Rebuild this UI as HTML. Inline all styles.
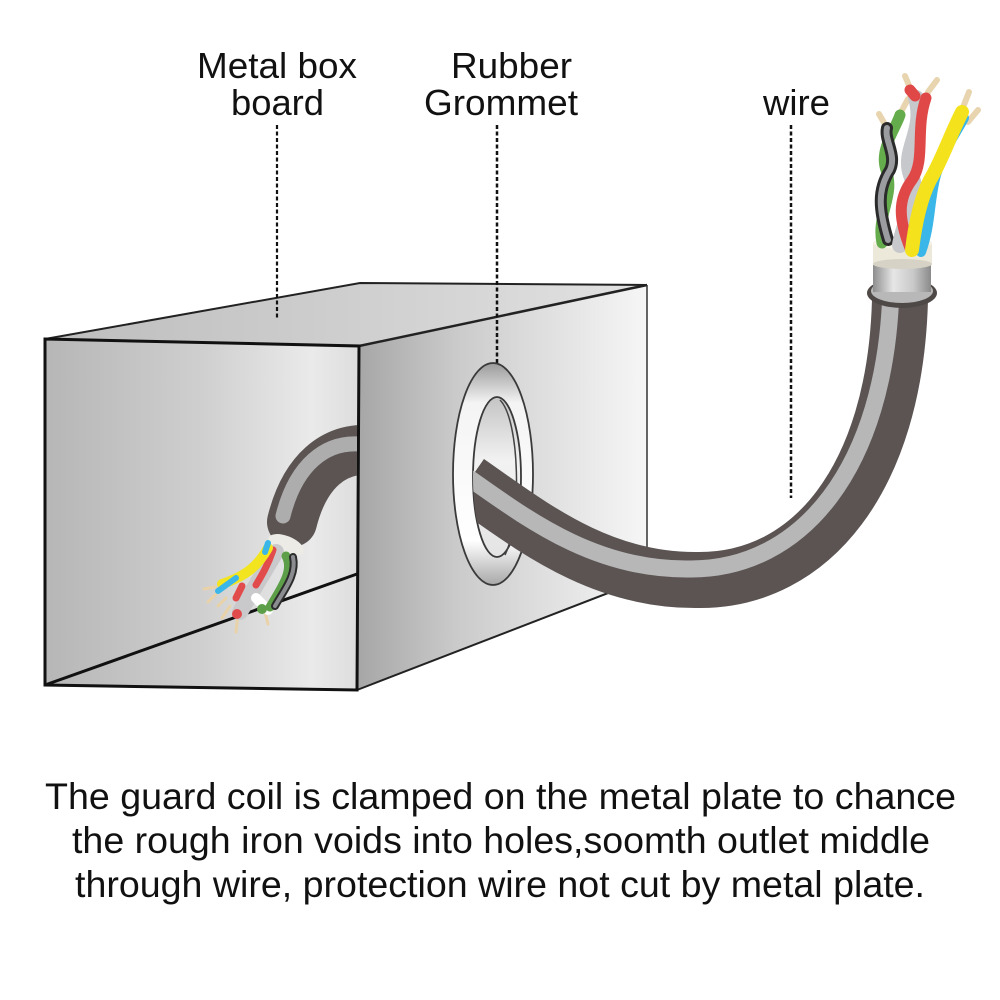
<!DOCTYPE html>
<html>
<head>
<meta charset="utf-8">
<style>
html,body{margin:0;padding:0;background:#fff;}
svg{display:block;}
text{font-family:"Liberation Sans",Arial,sans-serif;fill:#111;}
</style>
</head>
<body>
<svg width="1000" height="1000" viewBox="0 0 1000 1000" xmlns="http://www.w3.org/2000/svg">
<defs>
  <linearGradient id="gFront" x1="0" y1="0" x2="1" y2="0">
    <stop offset="0" stop-color="#b6b6b6"/>
    <stop offset="0.5" stop-color="#cfcfcf"/>
    <stop offset="0.85" stop-color="#eaeaea"/>
    <stop offset="1" stop-color="#dddddd"/>
  </linearGradient>
  <linearGradient id="gTop" x1="0" y1="0" x2="1" y2="0">
    <stop offset="0" stop-color="#bdbdbd"/>
    <stop offset="0.6" stop-color="#d2d2d2"/>
    <stop offset="1" stop-color="#e2e2e2"/>
  </linearGradient>
  <linearGradient id="gSide" x1="0" y1="0" x2="1" y2="0">
    <stop offset="0" stop-color="#a6a6a6"/>
    <stop offset="0.35" stop-color="#cbcbcb"/>
    <stop offset="0.75" stop-color="#e6e6e6"/>
    <stop offset="1" stop-color="#f6f6f6"/>
  </linearGradient>
  <linearGradient id="gRing" x1="0" y1="0" x2="0" y2="1">
    <stop offset="0" stop-color="#9a9a9a"/>
    <stop offset="0.18" stop-color="#f4f4f4"/>
    <stop offset="0.8" stop-color="#ffffff"/>
    <stop offset="1" stop-color="#a8a8a8"/>
  </linearGradient>
  <linearGradient id="gHole" x1="0" y1="0" x2="0" y2="1">
    <stop offset="0" stop-color="#c4c4c4"/>
    <stop offset="0.4" stop-color="#f2f2f2"/>
    <stop offset="1" stop-color="#e4e4e4"/>
  </linearGradient>
  <linearGradient id="gSilver" x1="0" y1="0" x2="1" y2="0">
    <stop offset="0" stop-color="#8e8e8e"/>
    <stop offset="0.35" stop-color="#e6e6e6"/>
    <stop offset="0.7" stop-color="#c8c8c8"/>
    <stop offset="1" stop-color="#8a8a8a"/>
  </linearGradient>
  <clipPath id="clipBox">
    <rect x="0" y="0" width="357" height="1000"/>
  </clipPath>
  <clipPath id="clipHole">
    <ellipse cx="497" cy="477" rx="24" ry="80"/>
    <rect x="497" y="0" width="503" height="1000"/>
  </clipPath>
</defs>

<rect width="1000" height="1000" fill="#fff"/>

<!-- Labels -->
<text x="197" y="78" font-size="36" textLength="160" lengthAdjust="spacingAndGlyphs">Metal box</text>
<text x="231" y="115" font-size="36" textLength="93" lengthAdjust="spacingAndGlyphs">board</text>
<text x="451" y="78" font-size="36" textLength="121" lengthAdjust="spacingAndGlyphs">Rubber</text>
<text x="424" y="115" font-size="36" textLength="154" lengthAdjust="spacingAndGlyphs">Grommet</text>
<text x="763" y="115" font-size="36" textLength="67" lengthAdjust="spacingAndGlyphs">wire</text>

<!-- Box -->
<polygon points="45,339 360,283 647,285 359,346" fill="url(#gTop)"/>
<polygon points="45,339 359,346 357,690 45,685" fill="url(#gFront)"/>
<polygon points="359,346 647,285 647,578 357,690" fill="url(#gSide)"/>
<polyline points="45,339 360,283 647,285" fill="none" stroke="#222" stroke-width="2"/>
<line x1="359" y1="346" x2="647" y2="285" stroke="#222" stroke-width="2.5"/>
<line x1="647" y1="285" x2="647" y2="578" stroke="#333" stroke-width="1.5"/>
<line x1="357" y1="690" x2="647" y2="578" stroke="#222" stroke-width="2"/>
<polygon points="45,339 359,346 357,690 45,685" fill="none" stroke="#111" stroke-width="3"/>
<line x1="45" y1="685" x2="357" y2="574" stroke="#111" stroke-width="3"/>

<!-- Dashed leaders -->
<line x1="277" y1="125" x2="277" y2="318" stroke="#111" stroke-width="2.2" stroke-dasharray="4 2.5"/>
<line x1="497" y1="125" x2="497" y2="378" stroke="#111" stroke-width="2.5" stroke-dasharray="4 2.5"/>
<line x1="791" y1="125" x2="791" y2="498" stroke="#111" stroke-width="2.5" stroke-dasharray="4 2.5"/>

<!-- Cable inside the box -->
<g clip-path="url(#clipBox)">
  <path d="M 368 450 C 335 448, 305 470, 292 522" fill="none" stroke="#5b5453" stroke-width="50" stroke-linecap="round"/>
  <path d="M 368 450 C 335 448, 305 470, 292 522" fill="none" stroke="#adadad" stroke-width="15" stroke-linecap="round" transform="translate(-9,-6)"/>
</g>
<!-- left end: shield ring -->
<ellipse cx="286" cy="545" rx="19" ry="9" fill="#ecebe6" transform="rotate(22 286 545)"/>
<!-- left wires -->
<g stroke-linecap="round" fill="none">
  <path d="M 230 606 L 222 618 M 238 614 L 236 632 M 265 612 L 268 624 M 215 587 L 204 589 M 218 592 L 208 602 M 226 598 L 218 606" stroke="#e9d2a8" stroke-width="3"/>
  <path d="M 276 552 C 262 575, 252 592, 240 612" stroke="#c9c9cc" stroke-width="16"/>
  <path d="M 256 598 L 268 610" stroke="#ffffff" stroke-width="10"/>
  <path d="M 273 550 C 268 565, 262 575, 256 585" stroke="#e24b4b" stroke-width="7"/>
  <path d="M 242 586 L 236 598" stroke="#e24b4b" stroke-width="7"/>
  <circle cx="237" cy="614" r="5" fill="#e24b4b" stroke="none"/>
  <path d="M 268 548 C 258 566, 246 576, 222 584" stroke="#f2e51f" stroke-width="10"/>
  <path d="M 268 543 L 265 552" stroke="#3ab6e8" stroke-width="6"/>
  <path d="M 236 578 L 218 591" stroke="#3ab6e8" stroke-width="6"/>
  <path d="M 286 556 C 294 570, 282 587, 270 607" stroke="#5d9f48" stroke-width="9"/>
  <path d="M 293 557 C 297 575, 284 590, 275 606" stroke="#2c2c2c" stroke-width="8"/>
  <path d="M 293 557 C 297 575, 284 590, 275 606" stroke="#8a8c90" stroke-width="4"/>
  <circle cx="262" cy="609" r="5" fill="#5d9f48" stroke="none"/>
</g>

<!-- Grommet -->
<ellipse cx="493" cy="474" rx="40" ry="111" fill="url(#gRing)" stroke="#3a3a3a" stroke-width="1.8"/>
<ellipse cx="497" cy="477" rx="24" ry="80" fill="url(#gHole)" stroke="#3a3a3a" stroke-width="1.8"/>
<path d="M 500 400 C 520 420, 522 520, 505 555" fill="none" stroke="#444" stroke-width="1.5"/>

<!-- Cable outside -->
<g clip-path="url(#clipHole)">
  <path d="M 468 482 C 530 525, 600 582, 700 580 C 810 580, 895 480, 900 300" fill="none" stroke="#5b5453" stroke-width="56"/>
  <path d="M 468 482 C 530 525, 600 582, 700 580 C 810 580, 895 480, 900 300" fill="none" stroke="#b7b7b7" stroke-width="17" transform="translate(-9,-11)"/>
</g>

<!-- Cable end (top right) -->
<ellipse cx="902" cy="293" rx="35" ry="15" fill="#4e4847"/>
<ellipse cx="902" cy="291" rx="31" ry="12" fill="#b8b8b8"/>
<rect x="873" y="260" width="58" height="32" fill="url(#gSilver)"/>
<rect x="873" y="243" width="59" height="22" fill="#ece8da"/>
<ellipse cx="902.5" cy="264" rx="29.5" ry="5" fill="#d6d3c6"/>
<ellipse cx="902.5" cy="243" rx="29.5" ry="6" fill="#f5f2e6"/>

<!-- Top wires -->
<g fill="none" stroke-linecap="round">
  <path d="M 887 128 L 879 114 M 901 112 L 908 99 M 911 90 L 905 76 M 928 92 L 937 80 M 962 110 L 969 92 M 968 122 L 978 110" stroke="#e8d4ae" stroke-width="6"/>
  <!-- green / grey-black pair -->
  <path d="M 882 243 C 876 215, 896 195, 886 170 C 879 150, 895 130, 900 115" stroke="#65ad4c" stroke-width="11"/>
  <path d="M 888 240 C 879 210, 877 190, 890 170 C 897 155, 884 140, 887 128" stroke="#2b2b2b" stroke-width="12"/>
  <path d="M 888 240 C 879 210, 877 190, 890 170 C 897 155, 884 140, 887 128" stroke="#9a9ca0" stroke-width="6"/>
  <!-- red / grey pair -->
  <path d="M 900 245 C 905 215, 921 200, 911 175 C 902 150, 926 130, 916 98" stroke="#c6c8cb" stroke-width="16"/>
  <path d="M 910 248 C 899 220, 897 200, 912 180 C 926 160, 915 130, 926 98" stroke="#e04848" stroke-width="11"/>
  <path d="M 915 96 L 910 90" stroke="#e04848" stroke-width="11"/>
  <!-- yellow / blue pair -->
  <path d="M 921 252 C 931 225, 929 200, 936 175 C 943 150, 955 135, 964 118" stroke="#3ab6e8" stroke-width="10"/>
  <path d="M 912 250 C 915 225, 920 200, 930 180 C 942 160, 948 140, 962 112" stroke="#f4e21c" stroke-width="14"/>
</g>

<!-- Bottom caption -->
<text x="45" y="809" font-size="37.5" textLength="911" lengthAdjust="spacingAndGlyphs">The guard coil is clamped on the metal plate to chance</text>
<text x="72" y="853" font-size="37.5" textLength="858" lengthAdjust="spacingAndGlyphs">the rough iron voids into holes,soomth outlet middle</text>
<text x="75" y="897" font-size="37.5" textLength="850" lengthAdjust="spacingAndGlyphs">through wire, protection wire not cut by metal plate.</text>
</svg>
</body>
</html>
